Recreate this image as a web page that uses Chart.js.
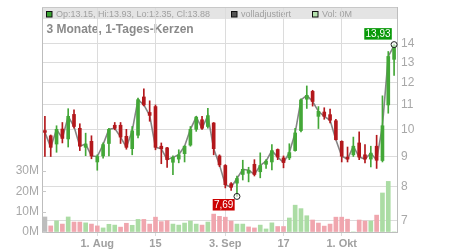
<!DOCTYPE html>
<html>
<head>
<meta charset="utf-8">
<script src="https://cdn.jsdelivr.net/npm/chart.js@4.4.1/dist/chart.umd.min.js"></script>
<style>
  html, body { margin: 0; padding: 0; background: #fff; }
</style>
</head>
<body>
<canvas id="chartKerzen" width="450" height="250"></canvas>
<script>
// Handelstage (3 Monate)
const dates = ['19.07','20.07','23.07','24.07','25.07','26.07','27.07','30.07','31.07','01.08',
  '02.08','03.08','06.08','07.08','08.08','09.08','10.08','13.08','14.08','15.08',
  '16.08','17.08','20.08','21.08','22.08','23.08','24.08','27.08','28.08','29.08',
  '30.08','03.09','04.09','05.09','06.09','07.09','10.09','11.09','12.09','13.09',
  '14.09','17.09','18.09','19.09','20.09','21.09','24.09','25.09','26.09','27.09',
  '28.09','01.10','02.10','03.10','04.10','05.10','08.10','09.10','10.10','11.10','12.10'];

const opens  = [9.95,9.75,9.44,10.01,9.63,10.60,10.04,9.32,9.54,8.80,
  9.01,9.46,10.16,10.16,9.73,9.27,9.77,11.35,10.68,10.93,
  9.36,9.30,8.79,8.90,9.09,9.40,10.00,10.38,10.11,10.25,
  9.01,8.68,8.08,8.10,8.38,8.42,8.72,8.47,8.72,8.80,
  9.24,8.94,8.94,9.20,9.95,11.25,11.60,10.52,10.70,10.59,
  10.34,9.54,8.97,9.05,9.48,9.05,8.90,9.36,8.85,11.00,13.15];
const highs  = [10.52,9.78,10.14,10.27,10.84,10.79,10.22,9.85,9.75,9.05,
  9.48,10.04,10.27,10.27,10.00,10.11,11.30,11.72,11.18,11.00,
  9.48,9.32,9.01,9.23,9.38,10.11,10.52,10.52,10.86,10.27,
  9.05,8.71,8.12,8.33,8.86,8.62,8.88,9.12,8.88,9.42,
  9.26,9.01,9.45,10.04,11.27,11.85,11.65,10.93,10.88,10.82,
  10.40,9.56,9.33,9.70,9.90,9.42,9.36,9.77,11.40,13.56,13.93];
const lows   = [8.99,8.99,9.14,9.48,9.33,10.04,9.20,9.02,8.91,8.52,
  8.93,9.01,9.98,9.46,9.25,9.05,9.67,10.96,10.32,9.23,
  8.74,8.61,8.37,8.77,8.80,9.36,9.92,10.00,10.04,9.05,
  8.64,7.95,7.87,7.69,8.20,8.14,8.33,8.27,8.58,8.53,
  8.88,8.60,8.88,9.18,9.90,10.85,10.95,10.03,10.40,10.25,
  9.59,8.80,8.80,8.99,8.88,8.77,8.63,8.58,8.80,10.65,12.35];
const closes = [9.88,9.32,10.00,9.65,10.52,10.11,9.36,9.44,9.01,8.99,
  9.42,10.00,10.04,9.70,9.32,9.94,11.23,11.00,10.56,9.32,
  9.27,8.88,8.96,9.05,9.36,10.00,10.49,10.04,10.55,9.27,
  8.70,8.05,7.97,8.25,8.55,8.52,8.38,8.68,8.83,9.20,
  8.97,8.78,9.13,9.86,11.22,11.42,11.15,10.73,10.52,10.36,
  9.60,9.00,8.90,9.36,8.97,8.90,9.11,8.86,10.14,13.30,13.88];
// Volumen in Mio. Stück
const volumes = [7.4,3.0,5.5,3.9,7.4,4.9,4.9,4.5,3.9,3.0,
  2.0,3.8,3.4,2.4,4.3,3.3,6.2,6.2,3.9,7.3,
  5.1,5.6,3.9,3.4,4.4,5.4,3.9,3.4,4.9,8.8,
  7.7,7.3,5.4,3.9,3.9,2.5,2.0,3.4,1.5,4.5,
  2.7,2.7,6.9,13.2,11.5,8.0,5.9,4.4,2.9,3.9,
  7.3,7.3,6.3,0,5.9,5.4,5.4,8.3,19.2,24.9,0];

const priceTicks = [7, 8, 9, 10, 11, 12, 13, 14];
const volumeTicks = [0, 10, 20, 30];
const xTickIndex = [9, 19, 31, 41, 51];
const xTickText = ['1. Aug', '15', '3. Sep', '17', '1. Okt'];

const GREEN = '#43a737';
const RED = '#b3181c';
const candleColors = opens.map((o, i) => closes[i] >= o ? GREEN : RED);
const volumeColors = closes.map((c, i) => {
  if (i === 0) return '#bdbdbd';
  return c >= closes[i - 1] ? '#abdca4' : '#f0a6ae';
});

const FONT = 'Liberation Sans';

const deko = {
  id: 'deko',
  beforeDraw(chart) {
    const ctx = chart.ctx;
    const a = chart.chartArea;
    ctx.save();
    // Kopfzeile
    ctx.fillStyle = '#e4e4e4';
    ctx.fillRect(a.left, a.top, a.right - a.left, 12);
    ctx.font = '9px "' + FONT + '"';
    ctx.textBaseline = 'alphabetic';
    const items = [
      [46.5, '#3aa532', 'Op:13.15, Hi:13.93, Lo:12.35, Cl:13.88'],
      [231.5, '#555555', 'volladjustiert'],
      [312.5, '#b5e2ae', 'Vol: 0M']
    ];
    items.forEach(([x, col, txt]) => {
      ctx.fillStyle = col;
      ctx.fillRect(x, 11.5, 5.5, 5.5);
      ctx.strokeStyle = '#111';
      ctx.lineWidth = 1;
      ctx.strokeRect(x, 11.5, 5.5, 5.5);
      ctx.fillStyle = '#a0a0a0';
      ctx.fillText(txt, x + 9.5, 17.3);
    });
    // Titel
    ctx.font = 'bold 12px "' + FONT + '"';
    ctx.fillStyle = '#8a8a8a';
    ctx.fillText('3 Monate, 1-Tages-Kerzen', 46.5, 33.3);
    ctx.restore();
  },
  afterDatasetsDraw(chart) {
    const ctx = chart.ctx;
    const a = chart.chartArea;
    const xs = chart.scales.x, ys = chart.scales.y, yv = chart.scales.yv;
    ctx.save();
    ctx.strokeStyle = '#c8c8c8';
    ctx.lineWidth = 1;
    ctx.beginPath();
    ctx.moveTo(a.left, a.top + 0.5);
    ctx.lineTo(a.right, a.top + 0.5);
    // kleine Striche der Volumenachse
    volumeTicks.forEach(v => {
      const y = Math.round(yv.getPixelForValue(v)) + 0.5;
      ctx.moveTo(a.left, y);
      ctx.lineTo(a.left + 4, y);
    });
    ctx.stroke();

    let hi = 0, lo = 0;
    highs.forEach((h, i) => { if (h > highs[hi]) hi = i; });
    lows.forEach((l, i) => { if (l < lows[lo]) lo = i; });

    const marker = (i, val, bg, above) => {
      const cx = xs.getPixelForValue(i);
      const cy = ys.getPixelForValue(val);
      const txt = val.toFixed(2).replace('.', ',');
      ctx.font = '10px "' + FONT + '"';
      const w = ctx.measureText(txt).width + 2.5;
      const h = 11.5;
      const right = cx - 2.3;
      const top = above ? cy - 5 - h : cy + 2.6;
      ctx.fillStyle = bg;
      ctx.fillRect(right - w, top, w, h);
      ctx.fillStyle = '#fff';
      ctx.textAlign = 'center';
      ctx.textBaseline = 'middle';
      ctx.fillText(txt, right - w / 2, top + h / 2 + 0.5);
      ctx.beginPath();
      ctx.arc(cx, cy, 3, 0, Math.PI * 2);
      ctx.fillStyle = 'rgba(255,255,255,0.6)';
      ctx.fill();
      ctx.strokeStyle = '#222';
      ctx.lineWidth = 1;
      ctx.stroke();
    };
    marker(hi, highs[hi], '#0a9a0a', true);
    marker(lo, lows[lo], '#cc0000', false);
    ctx.restore();
  }
};

const noPad = s => { s.paddingTop = 0; s.paddingBottom = 0; };

const chartKerzen = document.getElementById('chartKerzen');

new Chart(chartKerzen, {
  data: {
    labels: dates,
    datasets: [{
      type: 'line',
      data: closes,
      yAxisID: 'y',
      borderColor: 'rgba(120,120,120,0.9)',
      borderWidth: 1.6,
      pointRadius: 0,
      tension: 0,
      order: 3
    }, {
      type: 'bar',
      data: lows.map((l, i) => [l, highs[i]]),
      yAxisID: 'y',
      backgroundColor: candleColors,
      barThickness: 1,
      grouped: false,
      order: 2
    }, {
      type: 'bar',
      data: opens.map((o, i) => [o, closes[i]]),
      yAxisID: 'y',
      backgroundColor: candleColors,
      barThickness: 3,
      minBarLength: 1,
      grouped: false,
      order: 1
    }, {
      type: 'bar',
      data: volumes,
      yAxisID: 'yv',
      backgroundColor: volumeColors,
      barThickness: 4,
      grouped: false,
      order: 4
    }]
  },
  options: {
    responsive: false,
    animation: false,
    devicePixelRatio: 1,
    layout: { padding: { top: 7, left: 0, right: 0, bottom: 0 } },
    plugins: { legend: { display: false }, tooltip: { enabled: false } },
    scales: {
      x: {
        type: 'category',
        offset: true,
        grid: { color: '#dcdcdc', offset: false, tickLength: 4 },
        border: { color: '#bdbdbd' },
        ticks: {
          autoSkip: false, maxRotation: 0, padding: 1, color: '#a0a0a0',
          font: { family: FONT, size: 11, weight: 'bold' },
          callback: (v, i) => xTickText[i]
        },
        afterBuildTicks: s => { s.ticks = xTickIndex.map(v => ({ value: v })); },
        afterFit: s => { s.height = 18; s.paddingLeft = 0; s.paddingRight = 0; }
      },
      y: {
        type: 'logarithmic',
        position: 'right',
        min: 6.69,
        max: 16.14,
        bounds: 'data',
        grid: { color: '#dcdcdc', drawTicks: false },
        border: { color: '#bdbdbd' },
        ticks: {
          padding: 4, color: '#a8a8a8',
          font: { family: FONT, size: 12 },
          callback: v => String(v)
        },
        afterBuildTicks: s => { s.ticks = priceTicks.map(v => ({ value: v })); },
        afterFit: s => { s.width = 53; noPad(s); }
      },
      yv: {
        type: 'linear',
        position: 'left',
        min: 0,
        max: 110.7,
        grid: { drawOnChartArea: false, drawTicks: false },
        border: { color: '#bdbdbd' },
        ticks: {
          padding: 3, color: '#a8a8a8',
          font: { family: FONT, size: 12 },
          callback: v => v + 'M'
        },
        afterBuildTicks: s => { s.ticks = volumeTicks.map(v => ({ value: v })); },
        afterFit: s => { s.width = 42; noPad(s); }
      }
    }
  },
  plugins: [deko]
});
</script>
</body>
</html>
